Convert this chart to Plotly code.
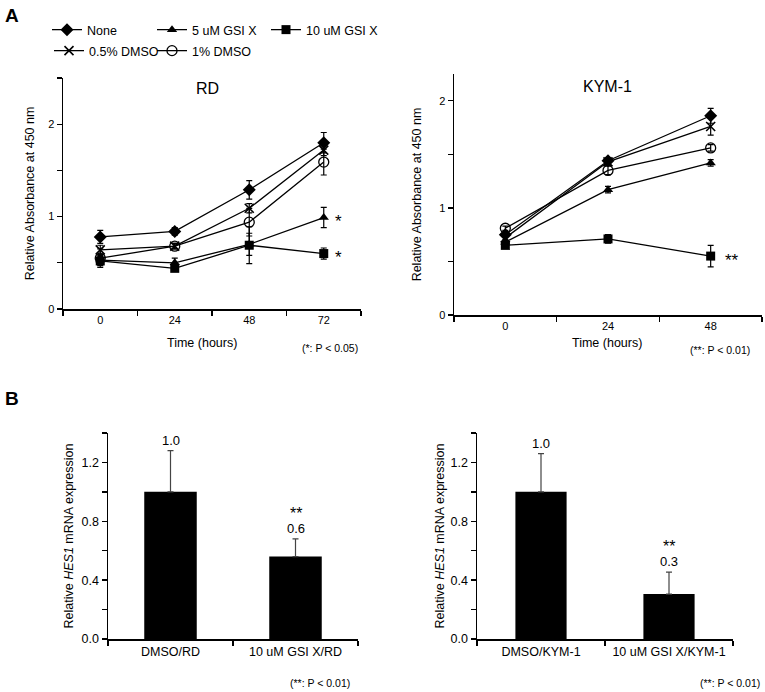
import plotly.graph_objects as go

FONT = "Liberation Sans, Arial, sans-serif"

# ---------------- Data ----------------
rd_times = ["0", "24", "48", "72"]
rd_none = [0.78, 0.84, 1.29, 1.80]
rd_none_err = [0.07, 0.04, 0.10, 0.11]
rd_gsi5 = [0.53, 0.50, 0.70, 0.99]
rd_gsi5_err = [0.05, 0.05, 0.12, 0.11]
rd_gsi10 = [0.52, 0.44, 0.69, 0.60]
rd_gsi10_err = [0.05, 0.03, 0.20, 0.06]
rd_dmso05 = [0.64, 0.68, 1.09, 1.72]
rd_dmso05_err = [0.05, 0.03, 0.05, 0.06]
rd_dmso1 = [0.55, 0.68, 0.94, 1.59]
rd_dmso1_err = [0.10, 0.03, 0.15, 0.14]

kym_times = ["0", "24", "48"]
kym_none = [0.75, 1.44, 1.86]
kym_none_err = [0.02, 0.03, 0.07]
kym_gsi5 = [0.68, 1.17, 1.42]
kym_gsi5_err = [0.02, 0.03, 0.03]
kym_gsi10 = [0.65, 0.71, 0.55]
kym_gsi10_err = [0.02, 0.04, 0.10]
kym_dmso05 = [0.72, 1.43, 1.76]
kym_dmso05_err = [0.02, 0.03, 0.08]
kym_dmso1 = [0.81, 1.35, 1.56]
kym_dmso1_err = [0.02, 0.04, 0.03]

series_names = ["None", "5 uM GSI X", "10 uM GSI X", "0.5% DMSO", "1% DMSO"]

rd_bar_labels = ["DMSO/RD", "10 uM GSI X/RD"]
rd_bar_values = [1.0, 0.56]
rd_bar_err = [0.28, 0.12]
rd_bar_text = ["1.0", "0.6"]

kym_bar_labels = ["DMSO/KYM-1", "10 uM GSI X/KYM-1"]
kym_bar_values = [1.0, 0.305]
kym_bar_err = [0.26, 0.15]
kym_bar_text = ["1.0", "0.3"]

# ---------------- Figure ----------------
FW, FH = 765, 692
def px(x):
    return x / FW
def py(y):
    return 1 - y / FH

fig = go.Figure()

markers = [
    dict(symbol="diamond", size=10, color="black"),
    dict(symbol="triangle-up", size=9, color="black"),
    dict(symbol="square", size=9, color="black"),
    dict(symbol="x-thin-open", size=9, color="black", line=dict(width=1.6, color="black")),
    dict(symbol="circle-open", size=10, color="black", line=dict(width=1.3, color="black")),
]
legend_ids = ["legend", "legend2", "legend3", "legend4", "legend5"]
legend_pos = [(47, 30), (152, 30), (266, 30), (49, 51), (152, 51)]

rd_vals = [rd_none, rd_gsi5, rd_gsi10, rd_dmso05, rd_dmso1]
rd_errs = [rd_none_err, rd_gsi5_err, rd_gsi10_err, rd_dmso05_err, rd_dmso1_err]
kym_vals = [kym_none, kym_gsi5, kym_gsi10, kym_dmso05, kym_dmso1]
kym_errs = [kym_none_err, kym_gsi5_err, kym_gsi10_err, kym_dmso05_err, kym_dmso1_err]

for i, name in enumerate(series_names):
    fig.add_trace(go.Scatter(
        x=rd_times, y=rd_vals[i], name=name, mode="lines+markers",
        line=dict(color="black", width=1.3), marker=markers[i],
        error_y=dict(type="data", array=rd_errs[i], color="black", thickness=1.2, width=3),
        xaxis="x", yaxis="y", legend=legend_ids[i], showlegend=True,
    ))
for i, name in enumerate(series_names):
    fig.add_trace(go.Scatter(
        x=kym_times, y=kym_vals[i], name=name, mode="lines+markers",
        line=dict(color="black", width=1.3), marker=markers[i],
        error_y=dict(type="data", array=kym_errs[i], color="black", thickness=1.2, width=3),
        xaxis="x2", yaxis="y2", showlegend=False,
    ))

fig.add_trace(go.Bar(
    x=rd_bar_labels, y=rd_bar_values, marker=dict(color="black", line=dict(width=0)),
    error_y=dict(type="data", symmetric=False, array=rd_bar_err, arrayminus=[0, 0],
                 color="#444444", thickness=1.2, width=3),
    xaxis="x3", yaxis="y3", showlegend=False, width=0.42,
))
fig.add_trace(go.Bar(
    x=kym_bar_labels, y=kym_bar_values, marker=dict(color="black", line=dict(width=0)),
    error_y=dict(type="data", symmetric=False, array=kym_bar_err, arrayminus=[0, 0],
                 color="#444444", thickness=1.2, width=3),
    xaxis="x4", yaxis="y4", showlegend=False, width=0.40,
))

axis_common = dict(
    showline=True, linecolor="black", linewidth=1.5, ticks="outside", ticklen=5,
    tickwidth=1.3, tickcolor="black", showgrid=False, zeroline=False, automargin=False,
    tickfont=dict(family=FONT, size=11, color="black"), fixedrange=True,
)
bar_tickfont = dict(family=FONT, size=12.5, color="black")
title_font = dict(family=FONT, size=12.5, color="black")
minor_y = lambda d: dict(dtick=d, ticks="outside", ticklen=5, tickcolor="black", tickwidth=1.3)

layout_legends = {}
for lid, (lx, ly) in zip(legend_ids, legend_pos):
    layout_legends[lid] = dict(
        orientation="h", x=px(lx), y=py(ly), xanchor="left", yanchor="middle",
        font=dict(family=FONT, size=12.5, color="black"), itemwidth=30,
        bgcolor="rgba(0,0,0,0)", itemclick=False, itemdoubleclick=False,
    )

fig.update_layout(
    width=FW, height=FH, margin=dict(l=0, r=0, t=0, b=0, autoexpand=False),
    paper_bgcolor="white", plot_bgcolor="white",
    font=dict(family=FONT, color="black"),
    xaxis=dict(axis_common, type="category", range=[-0.5, 3.5], tickson="boundaries",
               domain=[px(63), px(361)], anchor="y"),
    yaxis=dict(axis_common, range=[0, 2.5], dtick=1, domain=[py(309), py(78)], anchor="x",
               minor=minor_y(0.5),
               title=dict(text="Relative Absorbance at 450 nm", font=title_font, standoff=11)),
    xaxis2=dict(axis_common, type="category", range=[-0.5, 2.5], tickson="boundaries",
                domain=[px(454), px(762)], anchor="y2"),
    yaxis2=dict(axis_common, range=[0, 2.25], dtick=1, domain=[py(315), py(74)], anchor="x2",
                minor=minor_y(0.5),
                title=dict(text="Relative Absorbance at 450 nm", font=title_font, standoff=15)),
    xaxis3=dict(axis_common, type="category", range=[-0.5, 1.5], tickson="boundaries",
                domain=[px(108), px(358)], anchor="y3", tickfont=bar_tickfont),
    yaxis3=dict(axis_common, range=[0, 1.4], dtick=0.4, tickformat=".1f",
                domain=[py(639), py(433)], anchor="x3", minor=minor_y(0.2),
                tickfont=bar_tickfont,
                title=dict(text="Relative <i>HES1</i> mRNA expression", font=title_font, standoff=5)),
    xaxis4=dict(axis_common, type="category", range=[-0.5, 1.5], tickson="boundaries",
                domain=[px(477), px(733)], anchor="y4", tickfont=bar_tickfont),
    yaxis4=dict(axis_common, range=[0, 1.4], dtick=0.4, tickformat=".1f",
                domain=[py(639), py(433)], anchor="x4", minor=minor_y(0.2),
                tickfont=bar_tickfont,
                title=dict(text="Relative <i>HES1</i> mRNA expression", font=title_font, standoff=3)),
    bargap=0.58,
    hovermode=False,
    **layout_legends,
)

ann = []
def text(x, y, s, size=11, **kw):
    d = dict(x=x, y=y, text=s, showarrow=False, xanchor="center", yanchor="middle",
             font=dict(family=FONT, size=size, color="black"))
    d.update(kw)
    ann.append(d)

# Panel letters
text(px(12), py(15), "<b>A</b>", size=19, xref="paper", yref="paper")
text(px(12), py(398), "<b>B</b>", size=19, xref="paper", yref="paper")
# Panel titles
text(px(207), py(88), "RD", size=16, xref="paper", yref="paper")
text(px(607), py(87), "KYM-1", size=16, xref="paper", yref="paper")
# x-axis titles
text(px(202), py(343), "Time (hours)", size=12.5, xref="paper", yref="paper")
text(px(607), py(343), "Time (hours)", size=12.5, xref="paper", yref="paper")
# significance notes
text(px(330), py(348), "(*: P < 0.05)", size=10.5, xref="paper", yref="paper")
text(px(720), py(350), "(**: P < 0.01)", size=10.5, xref="paper", yref="paper")
text(px(320), py(683), "(**: P < 0.01)", size=10.5, xref="paper", yref="paper")
text(px(730), py(683), "(**: P < 0.01)", size=10.5, xref="paper", yref="paper")
# asterisks on line charts (category axes: use index of the last time point)
rd_last = len(rd_times) - 1
kym_last = len(kym_times) - 1
text(rd_last, rd_gsi5[-1], "*", size=17, xref="x", yref="y", xshift=15, yshift=-4)
text(rd_last, rd_gsi10[-1], "*", size=17, xref="x", yref="y", xshift=15, yshift=-4)
text(kym_last, kym_gsi10[-1], "**", size=17, xref="x2", yref="y2", xshift=21, yshift=-4)
# bar labels
for xr, yr, labels, vals, errs, txts in [
    ("x3", "y3", rd_bar_labels, rd_bar_values, rd_bar_err, rd_bar_text),
    ("x4", "y4", kym_bar_labels, kym_bar_values, kym_bar_err, kym_bar_text),
]:
    for j in range(2):
        top = vals[j] + errs[j]
        text(j, top, txts[j], size=13, xref=xr, yref=yr, yanchor="bottom", yshift=1)
        if j == 1:
            text(j, top, "**", size=16, xref=xr, yref=yr, yanchor="bottom", yshift=15)

fig.update_layout(annotations=ann)
# remove the default 8px page margin so the figure fills the window exactly
fig.write_html("out.html", config={"displayModeBar": False, "staticPlot": True},
               post_script="document.body.style.margin='0';")
